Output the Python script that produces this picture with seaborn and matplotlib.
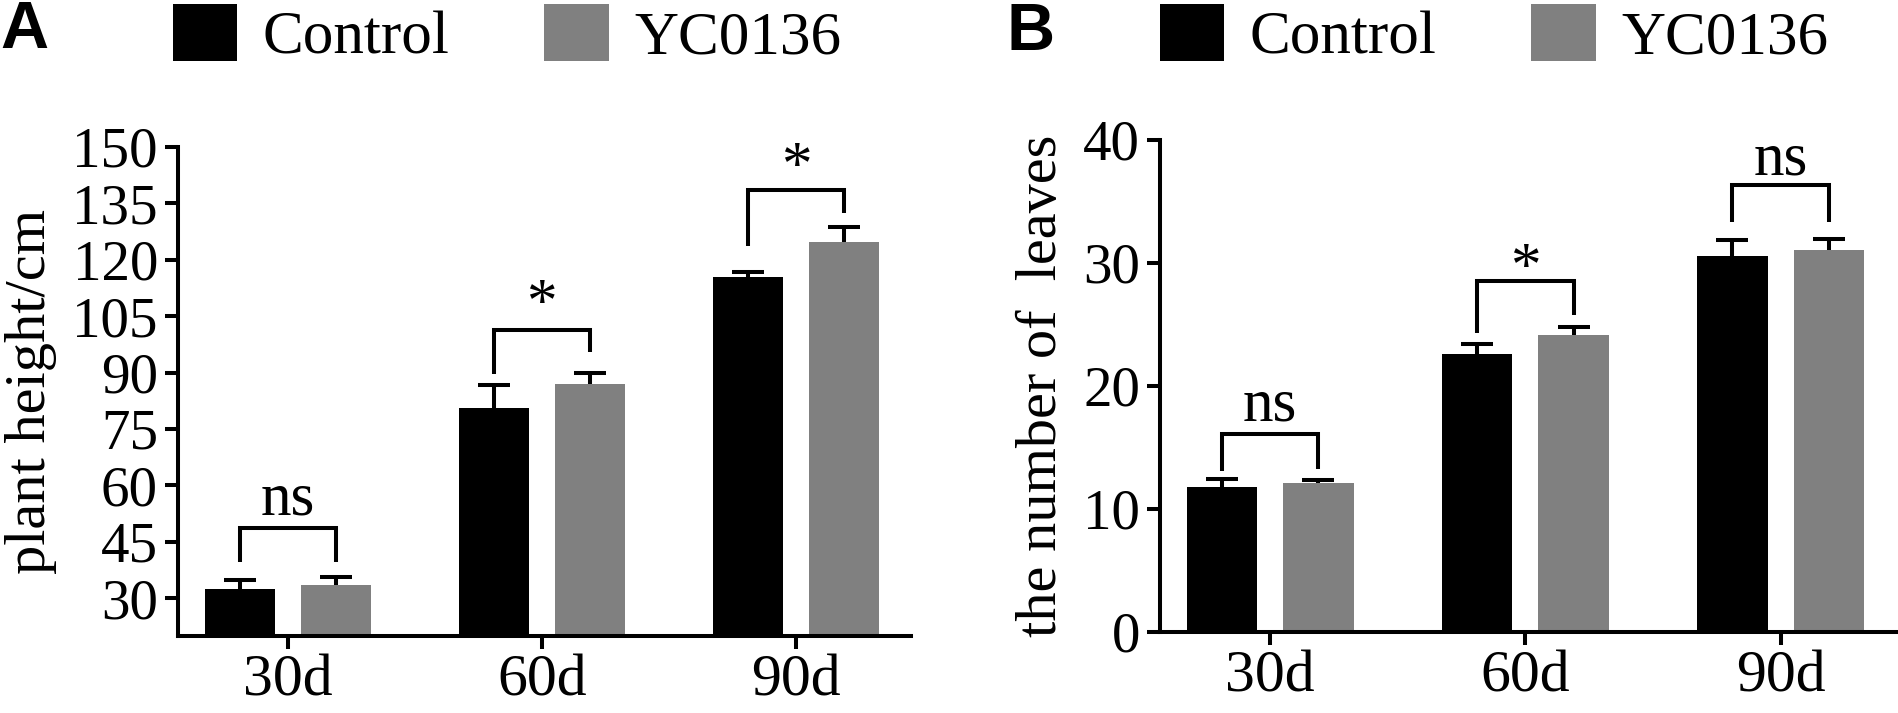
import matplotlib
matplotlib.use("Agg")
import matplotlib.pyplot as plt
import numpy as np
import pandas as pd
import seaborn as sns

sns.set_theme(style="ticks")
plt.rcParams["font.family"] = ["Liberation Serif", "DejaVu Serif"]
for key in ["text.color", "axes.labelcolor", "xtick.color", "ytick.color",
            "axes.edgecolor"]:
    plt.rcParams[key] = "black"

days = ["30d", "60d", "90d"]
groups = ["Control", "YC0136"]

# panel A: plant height (cm), mean and upper SD
height_ctrl = [32.5, 80.5, 115.4]
height_yc = [33.6, 87.0, 124.8]
height_ctrl_sd = [2.5, 6.1, 1.2]
height_yc_sd = [2.2, 2.8, 3.8]
height_sig = ["ns", "*", "*"]
height_br_top = [48.6, 101.4, 138.5]
height_br_left = [39.7, 89.6, 123.7]
height_br_right = [39.7, 95.4, 132.5]
height_sig_y = [52.3, 104.0, 140.4]

# panel B: number of leaves
leaves_ctrl = [11.76, 22.56, 30.58]
leaves_yc = [12.06, 24.12, 31.09]
leaves_ctrl_sd = [0.67, 0.85, 1.29]
leaves_yc_sd = [0.26, 0.70, 0.82]
leaves_sig = ["ns", "*", "ns"]
leaves_br_top = [16.07, 28.57, 36.3]
leaves_br_left = [13.1, 24.3, 33.3]
leaves_br_right = [13.2, 25.8, 33.3]
leaves_sig_y = [17.2, 28.3, 37.2]

colors = ["#000000", "#808080"]
LW = 2.9

fig = plt.figure(figsize=(18.99, 7.13), dpi=100)
axA = fig.add_axes([0.09373, 0.10799, 0.38584, 0.68626])
axB = fig.add_axes([0.61085, 0.11403, 0.38757, 0.68962])


def panel(ax, ctrl, yc, ctrl_sd, yc_sd, sig, br_top, br_left, br_right, sig_y,
          ylim, yticks, ylabel, legend_xy):
    df = pd.DataFrame({
        "day": days * 2,
        "group": [groups[0]] * 3 + [groups[1]] * 3,
        "value": ctrl + yc,
    })
    sns.barplot(data=df, x="day", y="value", hue="group", palette=colors,
                width=0.756, gap=0.27, errorbar=None, saturation=1,
                linewidth=0, ax=ax)

    centers = []
    for cont, sd in zip(list(ax.containers[:2]), [ctrl_sd, yc_sd]):
        xs = [p.get_x() + p.get_width() / 2 for p in cont]
        hs = [p.get_height() for p in cont]
        centers.append(xs)
        eb = ax.errorbar(xs, hs, yerr=[np.zeros(len(sd)), sd], fmt="none",
                         ecolor="black", elinewidth=LW, capsize=11.5,
                         capthick=LW, zorder=3)
        eb[1][0].set_visible(False)

    for i in range(len(days)):
        x1, x2 = centers[0][i], centers[1][i]
        ax.plot([x1, x1, x2, x2], [br_left[i], br_top[i], br_top[i], br_right[i]],
                color="black", lw=LW, solid_joinstyle="miter",
                solid_capstyle="butt", zorder=3)
        ax.text((x1 + x2) / 2, sig_y[i], sig[i], ha="center", va="baseline",
                fontsize=44)

    ax.set_xlim(-0.432, 2.452)
    ax.set_ylim(*ylim)
    ax.set_yticks(yticks)
    ax.set_xlabel("")
    ax.set_ylabel(ylabel, fontsize=42, labelpad=11)
    sns.despine(ax=ax)
    for s in ["left", "bottom"]:
        ax.spines[s].set_linewidth(LW)
    ax.tick_params(axis="both", width=LW, length=9.4, direction="out",
                   color="black")
    ax.tick_params(axis="y", labelsize=41, pad=5)
    ax.tick_params(axis="x", labelsize=43, pad=4)

    sns.move_legend(ax, "upper left", bbox_to_anchor=legend_xy,
                    bbox_transform=fig.transFigure, ncol=2, frameon=False,
                    title=None, fontsize=44, handlelength=1.05,
                    handleheight=1.05, handletextpad=0.42, columnspacing=1.55,
                    borderpad=0, borderaxespad=0)


panel(axA, height_ctrl, height_yc, height_ctrl_sd, height_yc_sd, height_sig,
      height_br_top, height_br_left, height_br_right, height_sig_y,
      (20, 150), np.arange(30, 151, 15), "plant height/cm",
      (173 / 1899, 1 - 4 / 713))
panel(axB, leaves_ctrl, leaves_yc, leaves_ctrl_sd, leaves_yc_sd, leaves_sig,
      leaves_br_top, leaves_br_left, leaves_br_right, leaves_sig_y,
      (0, 40), np.arange(0, 41, 10), "the number of  leaves",
      (1160 / 1899, 1 - 4 / 713))

fig.text(0.0, 1 - 48 / 713, "A", family="Liberation Sans", weight="bold",
         fontsize=48, va="baseline", ha="left")
fig.text(1007 / 1899, 1 - 50 / 713, "B", family="Liberation Sans",
         weight="bold", fontsize=48, va="baseline", ha="left")

fig.savefig("out.png", dpi=100)
